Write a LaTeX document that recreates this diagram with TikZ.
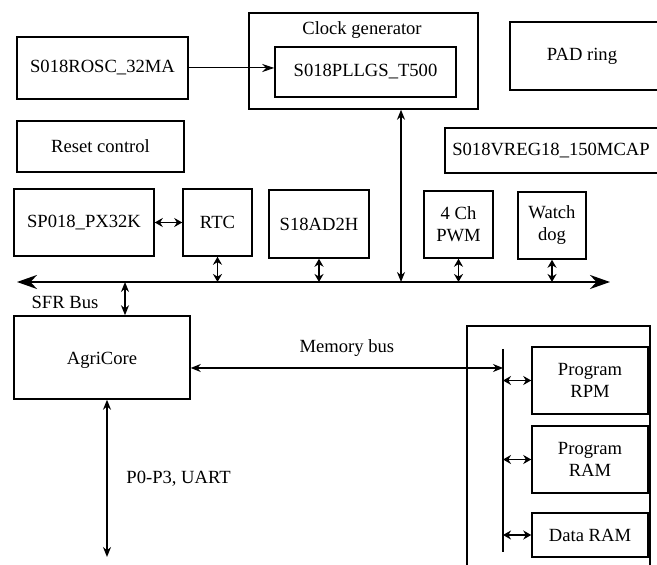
\documentclass[tikz,border=0pt]{standalone}
\usepackage{fontspec}
\setmainfont{Liberation Serif}
\usetikzlibrary{positioning,arrows.meta,calc}

\begin{document}
\begin{tikzpicture}[
  x=0.5pt, y=-0.5pt,
  every node/.style={font=\fontsize{9.3}{11}\selectfont},
  blk/.style={draw, line width=0.75pt, inner sep=0pt, align=center},
  link/.style={-{Stealth[length=6pt,width=4pt]}, line width=0.5pt},
  dbl/.style={{Stealth[length=4pt,width=4.5pt]}-{Stealth[length=4pt,width=4.5pt]}, line width=0.8pt},
  longdbl/.style={{Stealth[length=5pt,width=4pt]}-{Stealth[length=5pt,width=4pt]}, line width=0.8pt},
  sfrbus/.style={{Stealth[length=10pt,width=7pt]}-{Stealth[length=10pt,width=7pt]}, line width=1pt}
]
\useasboundingbox (0,0) rectangle (657,565);
\clip (0,0) rectangle (657,565);

% top row
\node[blk, minimum width=85.5pt, minimum height=31pt] (rosc) at (102.5,68) {S018ROSC\_32MA};
\node[blk, minimum width=114.5pt, minimum height=48pt] (clkgen) at (363.5,61) {};
\node (clklbl) at (362,30) {Clock generator};
\node[blk, minimum width=90.5pt, minimum height=25pt] (pll) at (365.5,72) {S018PLLGS\_T500};
\node[blk, minimum width=90pt, minimum height=34pt] (pad) at (600,56) {};
\node (padlbl) at (582,56) {PAD ring};
\node[blk, minimum width=121.5pt, minimum height=22.5pt] (vreg) at (566.5,150.5) {};
\node (vreglbl) at (551,150.5) {S018VREG18\_150MCAP};
\node[blk, minimum width=83.5pt, minimum height=25.5pt] (reset) at (100.5,146.5) {Reset control};

% peripherals on the SFR bus
\node[blk, minimum width=70pt, minimum height=33.5pt] (px32k) at (84,222.5) {SP018\_PX32K};
\node[blk, minimum width=34.5pt, minimum height=33.5pt] (rtc) at (217.5,222.5) {RTC};
\node[blk, minimum width=50pt, minimum height=34pt] (adc) at (319,224) {S18AD2H};
\node[blk, minimum width=34.5pt, minimum height=33.5pt] (pwm) at (458.5,224.5) {4 Ch\\PWM};
\node[blk, minimum width=34pt, minimum height=33.5pt] (wdog) at (552,225.5) {Watch\\dog};

% bus
\coordinate (busL) at (17,282);
\coordinate (busR) at (610,282);
\coordinate (clktap) at (401,282);
\coordinate (sfrtap) at (125,282);
\draw[sfrbus] (busL) -- (busR);
\node (sfrlbl) at (65,302) {SFR Bus};

% core
\node[blk, minimum width=88pt, minimum height=41.5pt] (core) at (102,357.5) {};
\node (corelbl) at (102,360) {AgriCore};

% memory block
\node[blk, minimum width=91.5pt, minimum height=129pt] (mem) at (558.5,455) {};
\coordinate (mtop) at (503,349);
\coordinate (mbot) at (503,552);
\coordinate (mlink) at (503,368);
\draw[line width=1.1pt] (mtop) -- (mbot);
\node[blk, minimum width=58pt, minimum height=33.5pt] (rpm) at (590,380.5) {Program\\RPM};
\node[blk, minimum width=58pt, minimum height=33.5pt] (ram) at (590,459.5) {Program\\RAM};
\node[blk, minimum width=58pt, minimum height=22pt] (dram) at (590,535) {Data RAM};

% connections
\draw[link] (rosc.east) -- (rosc.east -| pll.west);
\draw[dbl] (px32k.east) -- (rtc.west);
\draw[longdbl] (clktap |- clkgen.south) -- (clktap);
\foreach \blk in {rtc,adc,pwm,wdog}
  \draw[dbl] (\blk.south) -- (\blk.south |- busL);
\draw[longdbl] (sfrtap) -- (sfrtap |- core.north);
\draw[longdbl, line width=0.6pt] (core.east |- mlink) -- node[above=2pt] (memlbl) {Memory bus} (mlink);
\coordinate (portend) at (107,557);
\draw[longdbl] (portend |- core.south) -- node[right=6pt] (portlbl) {P0-P3, UART} (portend);
\foreach \blk in {rpm,ram,dram}
  \draw[dbl, line width=0.6pt] (\blk.west -| mtop) -- (\blk.west);
\end{tikzpicture}
\end{document}
